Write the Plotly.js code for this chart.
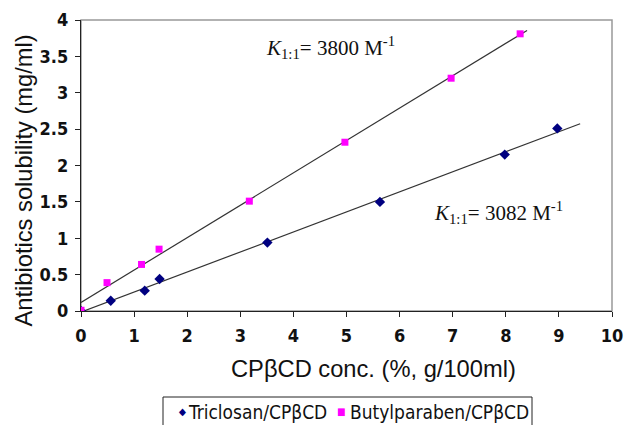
<!DOCTYPE html>
<html><head><meta charset="utf-8">
<script src="https://cdn.plot.ly/plotly-3.0.1.min.js"></script>
<style>html,body{margin:0;padding:0;background:#fff}</style>
</head><body>
<div id="chart" style="width:624px;height:425px"></div>
<script>
const triclosanX = [0, 0.56, 1.2, 1.48, 3.51, 5.63, 7.98, 8.97];
const triclosanY = [0, 0.14, 0.28, 0.44, 0.94, 1.50, 2.15, 2.51];
const butylX = [0, 0.49, 1.14, 1.47, 3.17, 4.97, 6.97, 8.27];
const butylY = [0.01, 0.39, 0.64, 0.85, 1.51, 2.32, 3.20, 3.81];
const triclosanTrendX = [0, 9.4];
const butylTrendX = [0, 8.4];
const seriesNames = ['Triclosan/CPβCD', 'Butylparaben/CPβCD'];
const seriesColors = ['#000080', '#FF00FF'];
const seriesGlyphs = ['◆', '■'];
const xTitle = 'CPβCD conc. (%, g/100ml)';
const yTitle = 'Antibiotics solubility (mg/ml)';
const annotationTexts = ['<i>K</i><sub>1:1</sub>= 3800 M<sup>-1</sup>', '<i>K</i><sub>1:1</sub>= 3082 M<sup>-1</sup>'];

function fit(xs, ys) {
  const n = xs.length;
  const mx = xs.reduce((a,b)=>a+b,0)/n, my = ys.reduce((a,b)=>a+b,0)/n;
  let sxy = 0, sxx = 0;
  for (let i=0;i<n;i++){ sxy += (xs[i]-mx)*(ys[i]-my); sxx += (xs[i]-mx)**2; }
  const m = sxy/sxx; return {m, b: my - m*mx};
}
const ft = fit(triclosanX, triclosanY), fb = fit(butylX, butylY);

const M = {l:81, r:12, t:20, b:114}, W = 624, H = 425;
const pw = W - M.l - M.r, ph = H - M.t - M.b;
const px = v => (v - M.l) / pw;
const py = v => (H - M.b - v) / ph;

const narrow = '"DejaVu Sans Condensed", "Liberation Sans Narrow", "Arial Narrow", sans-serif';
const sans = '"Liberation Sans", Arial, sans-serif';
const serif = '"Liberation Serif", "Times New Roman", serif';
const traces = [
  {x: triclosanTrendX, y: triclosanTrendX.map(x=>ft.m*x+ft.b), mode:'lines', line:{color:'#333', width:1.2}, showlegend:false, hoverinfo:'skip'},
  {x: butylTrendX, y: butylTrendX.map(x=>fb.m*x+fb.b), mode:'lines', line:{color:'#333', width:1.2}, showlegend:false, hoverinfo:'skip'},
  {x: triclosanX, y: triclosanY, mode:'markers', name: seriesNames[0], showlegend:false, marker:{symbol:'diamond', color:seriesColors[0], size:8}},
  {x: butylX, y: butylY, mode:'markers', name: seriesNames[1], showlegend:false, marker:{symbol:'square', color:seriesColors[1], size:7}}
];
const tickFont = {family:narrow, size:18, color:'#111', weight:'bold'};
const annFont = {family:serif, size:21, color:'#111'};
const legFont = {family:narrow, size:19, color:'#111'};
const A = (x, y, text, font, extra) => Object.assign({x, y, xref:'paper', yref:'paper', xanchor:'center', yanchor:'middle', text, showarrow:false, font}, extra || {});
const layout = {
  width:W, height:H, margin:M,
  paper_bgcolor:'#fff', plot_bgcolor:'#fff',
  showlegend:false,
  xaxis:{range:[0,10], dtick:1, tick0:0, showgrid:false, zeroline:false, showline:true, linecolor:'#222', linewidth:1.2,
    ticks:'outside', ticklen:5, tickcolor:'#222', tickfont:tickFont, ticklabelstandoff:3},
  yaxis:{range:[0,4], dtick:0.5, tick0:0, showgrid:false, zeroline:false, showline:true, linecolor:'#222', linewidth:1.2,
    ticks:'outside', ticklen:5, tickcolor:'#222', tickfont:tickFont, ticklabelstandoff:3},
  shapes:[
    {type:'rect', xref:'paper', yref:'paper', x0:0, x1:1, y0:0, y1:1, line:{color:'#999', width:1.5}, layer:'below'},
    {type:'rect', xref:'paper', yref:'paper', x0:px(163), x1:px(532), y0:py(397), y1:py(427), line:{color:'#222', width:1}, fillcolor:'#fff'}
  ],
  annotations:[
    {x:4.69, y:3.62, xref:'x', yref:'y', xanchor:'center', yanchor:'middle', text:annotationTexts[0], showarrow:false, font:annFont},
    {x:7.86, y:1.35, xref:'x', yref:'y', xanchor:'center', yanchor:'middle', text:annotationTexts[1], showarrow:false, font:annFont},
    A(px(373.5), py(369), xTitle, {family:sans, size:23.7, color:'#111'}),
    A(px(23), py(180.5), yTitle, {family:sans, size:23.7, color:'#111'}, {textangle:-90}),
    A(px(182), py(411), seriesGlyphs[0], {family:narrow, size:10, color:seriesColors[0]}),
    A(px(341), py(411), seriesGlyphs[1], {family:narrow, size:10, color:seriesColors[1]}),
    A(px(186), py(412), seriesNames[0], legFont, {xanchor:'left'}),
    A(px(348), py(412), seriesNames[1], legFont, {xanchor:'left'})
  ]
};
Plotly.newPlot('chart', traces, layout, {displayModeBar:false, staticPlot:true});
</script>
</body></html>
